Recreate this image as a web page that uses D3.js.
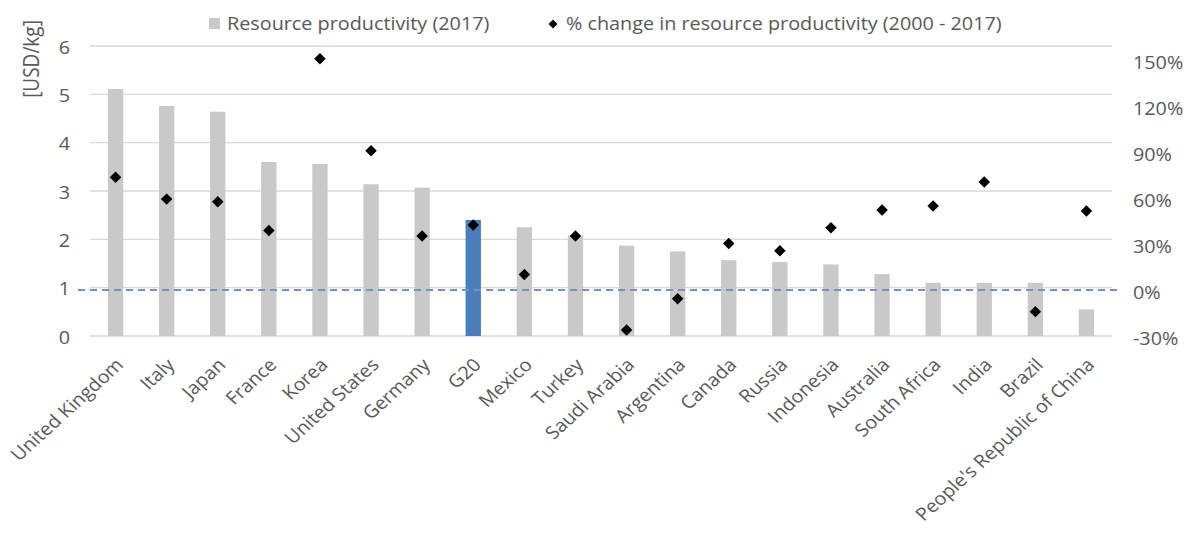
<!DOCTYPE html>
<html><head><meta charset="utf-8">
<script src="https://cdn.jsdelivr.net/npm/d3@7"></script>
<style>body{margin:0;background:#fff}svg{display:block}text{font-family:"Open Sans",sans-serif;fill:#595959}</style>
</head><body><svg id="c" width="1191" height="538"></svg>
<script>
const categories = ["United Kingdom","Italy","Japan","France","Korea","United States","Germany","G20","Mexico","Turkey","Saudi Arabia","Argentina","Canada","Russia","Indonesia","Australia","South Africa","India","Brazil","People's Republic of China"];
const productivity2017 = [5.11,4.76,4.64,3.60,3.56,3.14,3.07,2.40,2.25,2.08,1.87,1.75,1.57,1.53,1.48,1.28,1.10,1.10,1.10,0.55];
const pctChange = [0.735,0.593,0.576,0.389,1.509,0.908,0.352,0.424,0.102,0.352,-0.261,-0.057,0.304,0.256,0.406,0.522,0.548,0.704,-0.141,0.515];
const leftTicks = [0,1,2,3,4,5,6];
const rightTicks = [-0.3,0,0.3,0.6,0.9,1.2,1.5];
const highlight = "G20";

const FS = "18px";
const K = 1.1; // horizontal stretch of text seen in the reference
const svg = d3.select("#c");
const L = 90, R = 1112, T = 46, B = 336;
const x = d3.scaleBand().domain(categories).range([L, R]).paddingInner(0.7).paddingOuter(0.35);
const y = d3.scaleLinear().domain([0, 6]).range([B, T]);
const y2 = d3.scaleLinear().domain([-0.3, 1.592]).range([B, T]);
const pct = d3.format(".0%");

// gridlines
svg.append("g").selectAll("line").data(leftTicks).join("line")
  .attr("x1", L).attr("x2", R).attr("y1", d => y(d)).attr("y2", d => y(d))
  .attr("stroke", "#d9d9d9").attr("stroke-width", 1.3);

// left axis
const ga = svg.append("g").attr("transform", `translate(${L - 20},0)`)
  .call(d3.axisLeft(y).tickValues(leftTicks).tickSize(0).tickPadding(0).tickFormat(d3.format("d")));
ga.select(".domain").remove();
ga.selectAll("text").attr("x", 0).style("font-size", FS).attr("fill", "#595959").attr("dy", "0.4em")
  .attr("transform", `scale(${K},1)`);

// right axis
const gb = svg.append("g").attr("transform", `translate(${R + 21},0)`)
  .call(d3.axisRight(y2).tickValues(rightTicks).tickSize(0).tickPadding(0).tickFormat(d => pct(d).replace("\u2212", "-")));
gb.select(".domain").remove();
gb.selectAll("text").attr("x", 0).style("font-size", FS).attr("fill", "#595959").attr("dy", "0.45em")
  .attr("transform", `scale(${K},1)`);

// y title
svg.append("text").attr("transform", `translate(39,59) scale(${K},1) rotate(-90)`).attr("text-anchor", "middle")
  .style("font-size", "19px").text("[USD/kg]");

// bars
svg.append("g").selectAll("rect").data(categories).join("rect")
  .attr("x", d => x(d)).attr("width", x.bandwidth())
  .attr("y", (d, i) => y(productivity2017[i])).attr("height", (d, i) => y(0) - y(productivity2017[i]))
  .attr("fill", d => d === highlight ? "#4a7ebb" : "#c9c9c9");

// dashed zero line
svg.append("line").attr("x1", 78).attr("x2", 1120).attr("y1", y2(0)).attr("y2", y2(0))
  .attr("stroke", "#6f94cc").attr("stroke-width", 2).attr("stroke-dasharray", "7,5");

// diamonds
const dia = d3.symbol().type(d3.symbolSquare).size(66);
svg.append("g").selectAll("path").data(categories).join("path")
  .attr("d", dia)
  .attr("transform", (d, i) => `translate(${x(d) + x.bandwidth() / 2},${y2(pctChange[i])}) rotate(45)`)
  .attr("fill", "#000");

// category labels
svg.append("g").selectAll("text").data(categories).join("text")
  .attr("text-anchor", "end")
  .attr("transform", d => `translate(${x(d) + x.bandwidth() / 2 + 9},${B + 30}) scale(${K},1) rotate(-45)`)
  .style("font-size", FS).text(d => d);

// legend
const lg = svg.append("g");
lg.append("rect").attr("x", 209).attr("y", 18).attr("width", 11).attr("height", 11).attr("fill", "#c9c9c9");
lg.append("text").attr("transform", `translate(227,24) scale(${K},1)`).attr("dy", "0.35em").style("font-size", FS).text("Resource productivity (2017)");
lg.append("path").attr("d", d3.symbol().type(d3.symbolSquare).size(40)).attr("transform", "translate(553,24) rotate(45)").attr("fill", "#000");
lg.append("text").attr("transform", `translate(566,24) scale(${K},1)`).attr("dy", "0.35em").style("font-size", FS).text("% change in resource productivity (2000 - 2017)");
</script></body></html>
